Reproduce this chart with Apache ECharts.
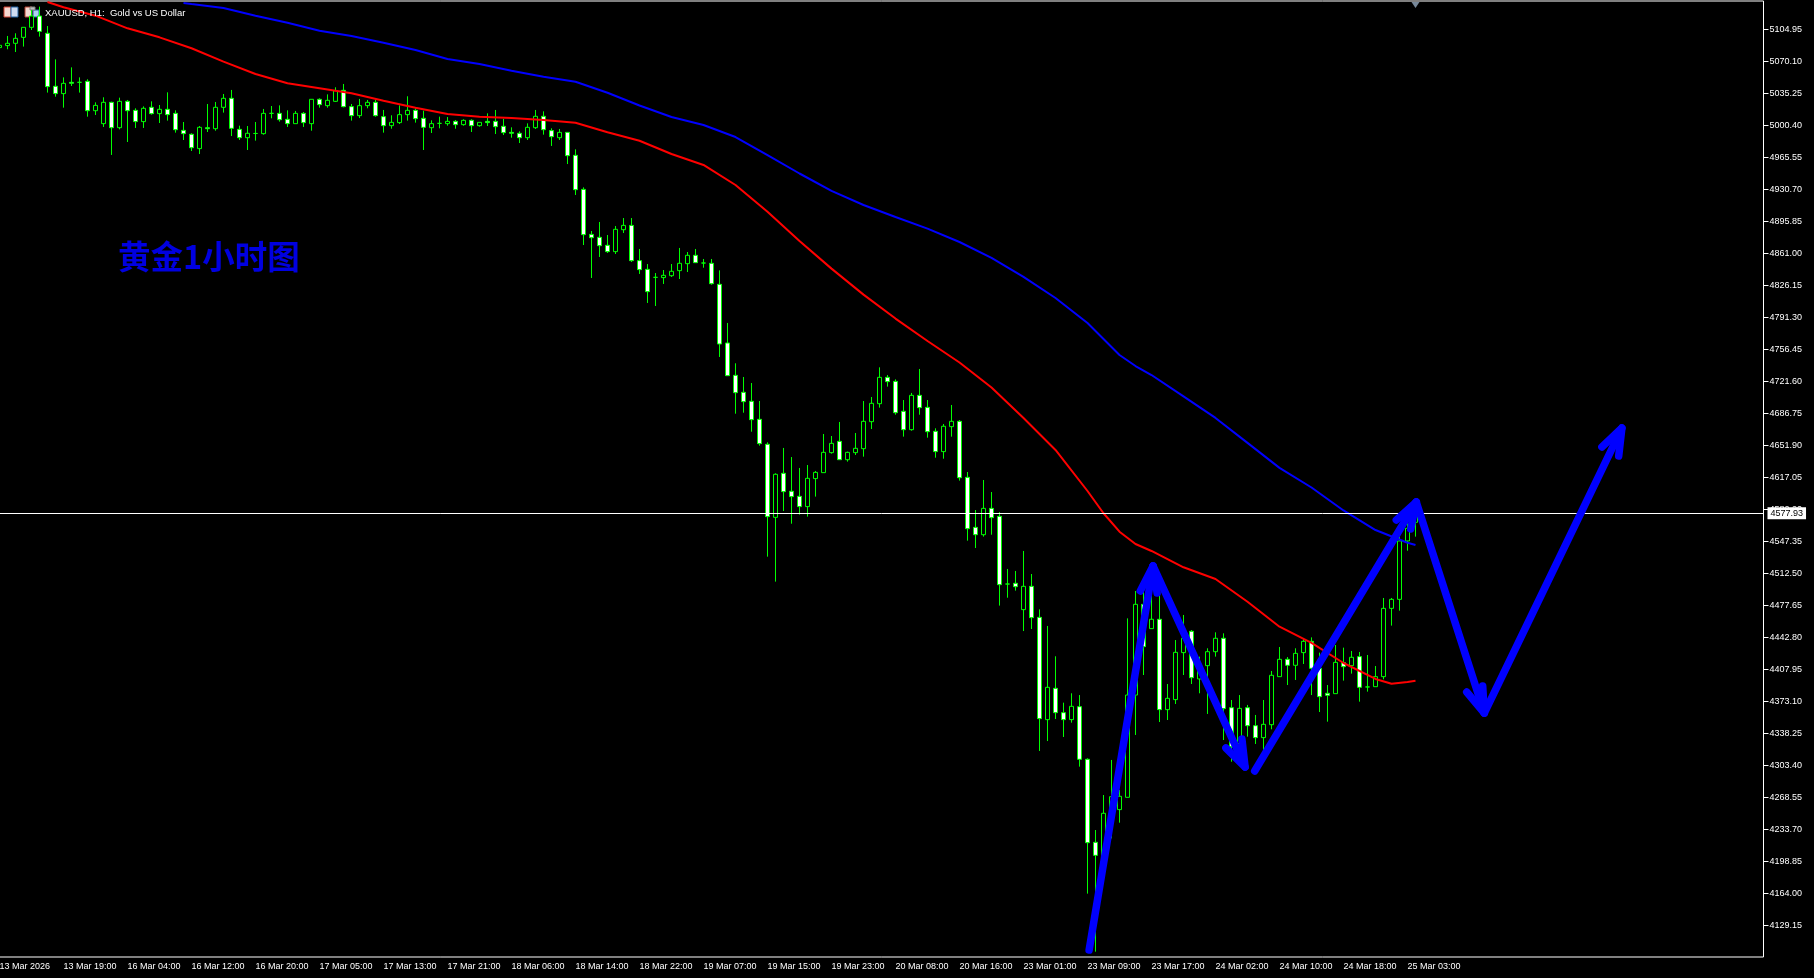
<!DOCTYPE html>
<html>
<head>
<meta charset="utf-8">
<title>XAUUSD H1</title>
<script src="https://cdn.jsdelivr.net/npm/echarts@6/dist/echarts.min.js"></script>
<style>
html, body { margin: 0; padding: 0; background: #000; }
#box { width: 1814px; height: 978px; }
</style>
</head>
<body>
<div id="box"></div>
<script>
// one label every 8 bars
var xLabels = ['13 Mar 2026', '13 Mar 19:00', '16 Mar 04:00', '16 Mar 12:00', '16 Mar 20:00', '17 Mar 05:00', '17 Mar 13:00', '17 Mar 21:00',
	'18 Mar 06:00', '18 Mar 14:00', '18 Mar 22:00', '19 Mar 07:00', '19 Mar 15:00', '19 Mar 23:00', '20 Mar 08:00', '20 Mar 16:00',
	'23 Mar 01:00', '23 Mar 09:00', '23 Mar 17:00', '24 Mar 02:00', '24 Mar 10:00', '24 Mar 18:00', '25 Mar 03:00'];

var yTicks = [5104.95, 5070.10, 5035.25, 5000.40, 4965.55, 4930.70, 4895.85, 4861.00, 4826.15, 4791.30, 4756.45, 4721.60, 4686.75, 4651.90, 4617.05, 4582.20,
	4547.35, 4512.50, 4477.65, 4442.80, 4407.95, 4373.10, 4338.25, 4303.40, 4268.55, 4233.70, 4198.85, 4164.00, 4129.15];

var lastPrice = 4577.93;

var opens = [5085.0,5087.2,5089.7,5096.2,5107.1,5119.4,5100.6,5042.9,5034.9,5047.2,
	5047.2,5048.3,5016.3,5002.2,5025.4,4997.8,5026.5,5016.7,5004.4,5020.0,
	5013.1,5017.8,5013.4,4994.9,4990.6,4975.0,4997.8,4996.7,5020.0,5029.8,
	4996.0,4986.9,4991.5,4991.3,5013.4,5013.4,5006.9,5002.2,5013.4,5002.2,
	5028.7,5021.8,5026.5,5038.5,5020.7,5010.9,5021.8,5025.4,5009.8,5000.0,
	5003.3,5012.0,5016.7,5008.0,4997.8,5002.5,5002.2,5004.7,5001.1,5005.8,
	5000.0,5004.7,5004.7,4999.3,4992.7,4991.7,4986.9,4997.8,5010.2,4994.6,
	4986.9,4992.7,4967.7,4930.6,4881.6,4878.4,4869.7,4862.8,4886.7,4891.4,
	4853.0,4843.5,4834.8,4834.5,4836.6,4842.1,4849.7,4858.8,4850.4,4850.1,
	4827.2,4763.3,4728.1,4709.6,4699.8,4680.2,4653.0,4573.4,4621.4,4601.8,
	4596.3,4585.1,4615.6,4622.1,4643.9,4656.2,4636.2,4643.9,4648.2,4677.6,
	4697.2,4725.9,4721.5,4688.9,4668.9,4706.3,4693.2,4667.1,4645.0,4672.2,
	4678.0,4617.0,4562.5,4554.5,4583.2,4574.5,4500.8,4501.6,4472.9,4498.3,
	4464.5,4353.1,4387.2,4360.7,4353.1,4367.2,4309.9,4219.5,4203.9,4251.1,
	4255.1,4268.5,4379.9,4478.7,4452.2,4462.4,4364.0,4374.9,4426.1,4449.3,
	4397.4,4411.9,4427.1,4441.7,4366.1,4327.3,4366.1,4346.5,4333.5,4347.6,
	4399.9,4418.8,4412.3,4426.1,4438.4,4409.0,4381.8,4381.4,4415.2,4411.9,
	4421.7,4388.7,4389.0,4399.9,4474.3,4484.1,4547.7,4568.0];

var closes = [5087.5,5089.7,5095.1,5107.1,5119.4,5102.7,5042.5,5034.9,5046.1,5046.1,
	5047.2,5016.3,5022.1,5025.4,4997.8,5026.5,5016.3,5004.4,5018.9,5013.1,
	5017.8,5012.0,4995.6,4991.3,4976.0,4998.2,4996.7,5020.0,5029.8,4997.1,
	4986.9,4991.7,4991.5,5013.4,5013.4,5006.5,5002.2,5013.4,5003.3,5028.7,
	5022.9,5027.6,5038.1,5020.7,5010.9,5021.8,5025.4,5010.9,5000.0,5003.6,
	5012.0,5016.7,5007.6,4998.2,5002.2,5002.5,5004.7,5001.1,5005.8,5000.0,
	5003.6,5003.3,4998.9,4992.4,4991.7,4986.9,4998.2,5010.2,4995.6,4988.0,
	4992.7,4967.3,4930.3,4881.3,4878.0,4869.3,4862.8,4887.1,4891.4,4853.0,
	4843.2,4819.2,4834.8,4837.0,4841.4,4850.1,4858.8,4850.8,4850.4,4827.9,
	4762.2,4727.7,4709.2,4699.4,4679.8,4653.7,4574.2,4620.3,4601.4,4596.0,
	4585.1,4615.9,4622.4,4644.2,4654.0,4636.2,4644.2,4648.6,4678.0,4697.6,
	4725.9,4721.2,4687.4,4668.9,4706.3,4692.9,4666.7,4645.0,4672.6,4678.0,
	4616.6,4561.1,4554.5,4583.2,4573.1,4500.1,4500.8,4497.9,4498.3,4464.2,
	4354.2,4388.3,4360.7,4353.1,4367.6,4309.9,4219.1,4205.3,4251.1,4269.2,
	4269.6,4379.9,4478.7,4432.6,4462.4,4364.0,4376.3,4426.4,4441.7,4398.8,
	4407.2,4427.1,4441.7,4365.1,4323.7,4365.4,4346.5,4333.5,4348.0,4401.4,
	4418.8,4412.3,4425.3,4438.4,4409.0,4378.1,4379.6,4415.5,4410.8,4421.0,
	4388.3,4388.7,4399.9,4474.3,4484.1,4547.7,4561.5,4577.93];

var lows = [5083.5,5083.2,5080.2,5086.1,5104.2,5097.0,5036.0,5031.6,5019.6,5043.2,
	5036.0,5009.8,5011.6,4998.6,4968.1,4996.0,4982.2,4997.5,4997.5,5012.0,
	5002.9,5005.5,4992.4,4984.4,4972.4,4969.1,4993.1,4994.5,5014.2,4988.7,
	4984.4,4973.5,4983.7,4990.2,5008.0,5004.4,4998.6,5002.2,4998.6,4994.5,
	5019.6,5019.6,5025.8,5020.0,5005.5,5008.3,5018.9,5009.8,4992.4,4996.7,
	5001.8,5005.5,5003.3,4973.5,4992.0,4997.1,5000.0,4996.7,5000.0,4993.1,
	4998.9,4999.6,4990.9,4989.8,4986.9,4981.1,4984.4,4996.4,4990.2,4977.9,
	4984.4,4958.2,4924.5,4870.0,4834.1,4857.0,4861.3,4860.2,4883.1,4851.5,
	4838.5,4806.9,4803.6,4827.6,4835.2,4833.0,4840.6,4850.8,4845.3,4826.8,
	4748.1,4727.4,4686.3,4687.4,4666.7,4651.5,4530.6,4503.4,4580.3,4566.5,
	4576.4,4574.2,4596.0,4622.1,4642.8,4636.2,4634.1,4641.3,4639.5,4669.6,
	4692.9,4715.8,4685.2,4661.3,4667.8,4685.2,4660.2,4638.4,4637.3,4661.3,
	4613.4,4548.0,4540.0,4552.4,4554.5,4477.3,4485.9,4493.6,4449.6,4451.8,
	4319.0,4329.8,4353.8,4334.2,4349.8,4301.9,4163.6,4100.4,4201.0,4223.8,
	4240.9,4268.5,4336.4,4401.7,4452.2,4350.5,4352.7,4370.1,4401.7,4391.9,
	4381.8,4359.3,4421.7,4330.9,4307.3,4316.4,4334.6,4326.6,4320.0,4342.6,
	4399.9,4390.8,4396.3,4413.7,4379.9,4361.4,4350.9,4381.4,4395.6,4403.2,
	4372.7,4383.6,4389.0,4397.0,4455.5,4471.8,4537.1,4552.4];

var highs = [5088.6,5097.7,5100.6,5107.1,5126.0,5129.6,5108.5,5072.2,5052.6,5063.5,
	5052.6,5050.5,5025.4,5030.9,5026.1,5030.5,5028.0,5018.9,5021.0,5026.5,
	5022.5,5036.3,5016.7,5004.0,4991.7,4999.6,5023.6,5025.8,5034.5,5038.9,
	5000.0,4999.6,5004.0,5018.2,5021.4,5022.1,5016.7,5016.0,5014.9,5028.7,
	5029.8,5034.1,5041.8,5045.4,5023.6,5029.1,5028.0,5028.0,5017.1,5011.3,
	5022.1,5032.0,5018.9,5016.3,5005.8,5009.8,5009.4,5006.2,5006.9,5006.9,
	5003.6,5013.4,5017.1,5007.3,4998.2,4993.8,5002.5,5017.1,5015.6,4997.1,
	4996.4,4992.7,4974.2,4932.8,4885.3,4895.1,4880.9,4890.7,4899.4,4899.4,
	4865.7,4849.3,4839.5,4842.8,4849.3,4866.8,4862.4,4865.7,4854.8,4854.8,
	4842.4,4785.1,4741.2,4726.3,4719.7,4700.1,4655.1,4621.4,4649.0,4639.1,
	4627.2,4630.4,4623.9,4664.2,4662.0,4677.3,4645.0,4665.3,4700.1,4704.5,
	4736.8,4728.4,4723.7,4701.2,4708.9,4735.0,4701.2,4670.4,4675.1,4695.8,
	4679.4,4622.8,4581.4,4614.1,4601.0,4579.2,4517.2,4515.0,4536.8,4511.7,
	4473.2,4455.1,4422.1,4371.6,4381.8,4379.9,4311.0,4232.9,4271.0,4309.2,
	4276.5,4463.4,4493.2,4494.3,4487.8,4487.8,4391.9,4439.8,4467.1,4450.7,
	4421.7,4430.8,4448.2,4447.1,4374.5,4379.9,4369.1,4358.2,4374.5,4406.1,
	4432.2,4421.3,4430.8,4441.7,4442.7,4426.1,4390.8,4434.4,4431.5,4427.9,
	4426.8,4423.5,4411.5,4485.6,4485.6,4552.4,4566.9,4581.4];

// moving averages, read every 4 bars: [bar, price]
var redMa = [[6,5134.7],[8,5128.9],[12,5119.8],[16,5106.0],[20,5096.2],[24,5084.3],[28,5069.7],[32,5056.3],[36,5046.1],[40,5040.7],
	[44,5035.3],[48,5027.2],[52,5019.6],[56,5012.7],[60,5009.8],[64,5008.4],[68,5006.2],[72,5003.2],[76,4992.8],[80,4983.6],
	[84,4969.1],[88,4957.2],[92,4935.4],[96,4906.3],[100,4874.4],[104,4844.3],[108,4816.0],[112,4789.9],[116,4765.5],[120,4742.1],
	[124,4714.8],[128,4681.7],[132,4646.8],[136,4602.1],[138,4577.9],[140,4557.8],[142,4544.4],[144,4536.8],[148,4519.0],[152,4506.3],[156,4481.5],[160,4454.3],
	[164,4436.6],[168,4414.8],[172,4397.4],[174,4392.2],[176,4394.1],[177,4395.5]];

var blueMa = [[23,5133.6],[24,5132.5],[28,5128.2],[32,5119.8],[36,5112.1],[40,5103.4],[44,5097.7],[48,5090.4],[52,5082.4],[56,5072.6],
	[60,5067.2],[64,5059.9],[68,5053.3],[72,5047.9],[76,5035.9],[80,5022.0],[84,5009.4],[88,5000.7],[92,4987.6],[96,4968.0],
	[100,4947.9],[104,4928.9],[108,4913.6],[112,4900.5],[116,4887.9],[120,4873.3],[124,4855.9],[128,4835.4],[132,4812.3],[136,4785.1],
	[138,4767.7],[140,4750.2],[142,4738.2],[144,4728.4],[148,4705.1],[152,4681.7],[156,4654.5],[160,4627.3],[164,4605.9],[168,4580.9],[172,4559.6],[176,4545.8],[177,4543.3]];

// hand drawn arrows on the chart: [bar, price]
var arrowUp1 = [[136.2,4102.2],[144.2,4520.4]];
var arrowHead1 = [[142.6,4493.2],[144.2,4520.4],[144.7,4491.0]];
var arrowDown1 = [[144.2,4520.4],[155.7,4301.5]];
var arrowHead2 = [[153.3,4322.2],[155.7,4301.5],[155.3,4332.0]];
var arrowUp2 = [[156.9,4297.2],[177.1,4590.1]];
var arrowHead3 = [[174.6,4570.5],[177.1,4590.1],[176.4,4560.7]];
var arrowDown2 = [[177.1,4590.1],[185.6,4360.3]];
var arrowHead4 = [[183.4,4383.2],[185.6,4360.3],[185.4,4389.8]];
var arrowUp3 = [[185.6,4360.3],[202.8,4670.7]];
var arrowHead5 = [[200.3,4650.0],[202.8,4670.7],[202.4,4640.2]];
var arrows = [arrowUp1, arrowHead1, arrowDown1, arrowHead2, arrowUp2, arrowHead3, arrowDown2, arrowHead4, arrowUp3, arrowHead5];

var slots = 221;
var categories = [];
for (var i = 0; i < slots; i++) {
	categories.push(i % 8 === 0 && xLabels[i / 8] ? xLabels[i / 8] : '');
}
var ohlc = opens.map(function (o, i) {
	return [o, closes[i], lows[i], highs[i]];
});

var labelFont = 'Liberation Sans';

var series = [{
	name: 'XAUUSD',
	type: 'candlestick',
	barWidth: 4,
	data: ohlc,
	itemStyle: {
		color: '#000',
		color0: '#fff',
		borderColor: '#00ff00',
		borderColor0: '#00ff00',
		borderColorDoji: '#00ff00',
		borderWidth: 1
	},
	markLine: {
		symbol: 'none',
		silent: true,
		animation: false,
		lineStyle: { color: '#fff', width: 1, type: 'solid' },
		label: {
			position: 'end',
			distance: 4,
			color: '#000',
			backgroundColor: '#fff',
			padding: [2, 3, 1, 3],
			fontFamily: labelFont,
			fontSize: 9,
			formatter: lastPrice.toFixed(2)
		},
		data: [{ yAxis: lastPrice }]
	},
	markPoint: {
		silent: true,
		animation: false,
		symbol: 'triangle',
		symbolRotate: 180,
		symbolSize: [8, 6],
		itemStyle: { color: '#778899' },
		label: { show: false },
		data: [{ coord: [177, 5131.5] }]
	}
}, {
	name: 'MA red',
	type: 'line',
	xAxisIndex: 1,
	data: redMa,
	symbol: 'none',
	lineStyle: { color: '#ff0000', width: 2 }
}, {
	name: 'MA blue',
	type: 'line',
	xAxisIndex: 1,
	data: blueMa,
	symbol: 'none',
	lineStyle: { color: '#0000ff', width: 2 }
}];

arrows.forEach(function (path) {
	series.push({
		type: 'line',
		xAxisIndex: 1,
		data: path,
		symbol: 'none',
		z: 5,
		lineStyle: { color: '#0000ff', width: 7.5, cap: 'round', join: 'round' }
	});
});

var option = {
	animation: false,
	backgroundColor: '#000',
	title: [{
		text: 'XAUUSD, H1:  Gold vs US Dollar',
		left: 45,
		top: 8,
		padding: 0,
		textStyle: { color: '#fff', fontFamily: labelFont, fontSize: 9.5, fontWeight: 'normal' }
	}, {
		text: '黄金1小时图',
		left: 118,
		top: 240,
		padding: 0,
		textStyle: { color: '#0000e0', fontFamily: 'Noto Sans CJK SC', fontSize: 32.5, fontWeight: 'bold' }
	}],
	grid: {
		left: -4.5,
		top: 1,
		width: 1768,
		height: 956,
		outerBoundsMode: 'none',
		show: true,
		backgroundColor: 'transparent',
		borderColor: '#fff',
		borderWidth: 1
	},
	xAxis: [{
		type: 'category',
		data: categories,
		boundaryGap: true,
		axisLine: { show: false, onZero: false },
		axisTick: {
			alignWithLabel: true,
			length: 4,
			lineStyle: { color: '#fff' },
			interval: function (idx) {
				return idx > 0 && idx % 8 === 0 && idx / 8 < xLabels.length;
			}
		},
		axisLabel: {
			interval: 0,
			align: 'left',
			margin: 5,
			color: '#fff',
			fontFamily: labelFont,
			fontSize: 9
		},
		splitLine: { show: false }
	}, {
		type: 'value',
		show: false,
		min: -0.5,
		max: 220.5
	}],
	yAxis: {
		type: 'value',
		position: 'right',
		min: 4094.59,
		max: 5135.77,
		axisLine: { show: false, onZero: false },
		axisTick: {
			length: 5,
			lineStyle: { color: '#fff' },
			customValues: yTicks
		},
		axisLabel: {
			margin: 6,
			align: 'left',
			color: '#fff',
			fontFamily: labelFont,
			fontSize: 9,
			customValues: yTicks,
			formatter: function (v) { return v.toFixed(2); }
		},
		splitLine: { show: false }
	},
	graphic: [
		{ type: 'rect', shape: { x: 4, y: 7, width: 7, height: 10 }, style: { fill: '#f4d8d0', stroke: '#d04030' } },
		{ type: 'rect', shape: { x: 11, y: 7, width: 7, height: 10 }, style: { fill: '#d0dcf0', stroke: '#2060a0' } },
		{ type: 'rect', shape: { x: 25, y: 7, width: 7, height: 10 }, style: { fill: '#f4d8d0', stroke: '#b04030' } },
		{ type: 'rect', shape: { x: 33, y: 10, width: 6, height: 7 }, style: { fill: '#b0d0f0', stroke: '#2060a0' } },
		{ type: 'rect', shape: { x: 30, y: 7, width: 5, height: 3 }, style: { fill: '#c0c0c0', stroke: '#808080' } }
	],
	series: series
};

var myChart = echarts.init(document.getElementById('box'));
myChart.setOption(option);
</script>
</body>
</html>
